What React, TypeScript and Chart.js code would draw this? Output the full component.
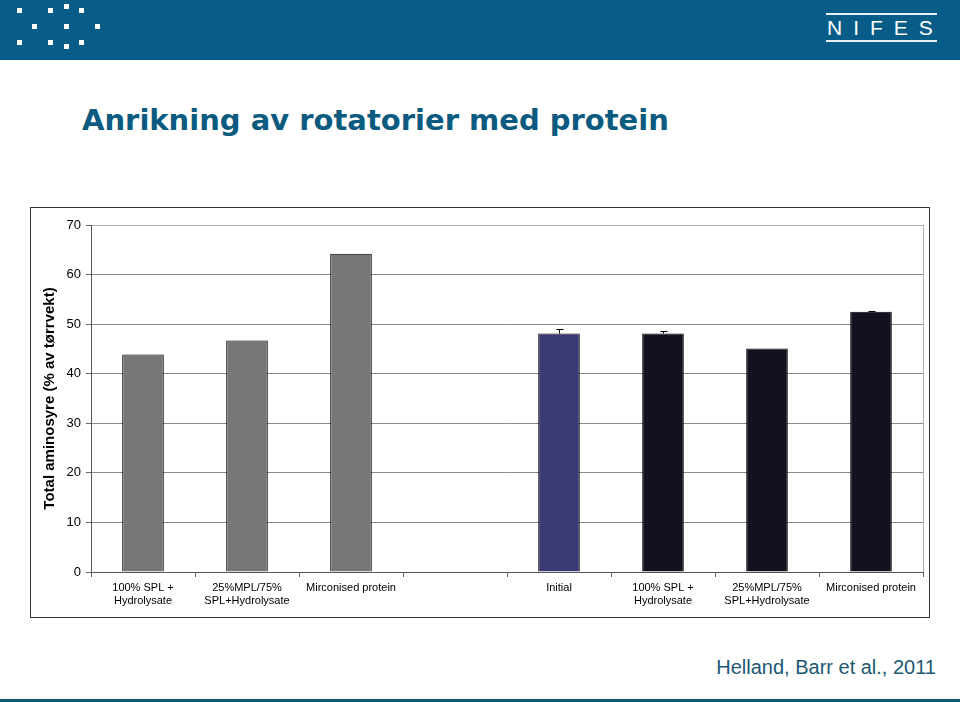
import React, { useEffect, useRef } from "react";
import { Chart, registerables } from "chart.js";

Chart.register(...registerables);

const categories: (string | string[])[] = [
  ["100% SPL +", "Hydrolysate"],
  ["25%MPL/75%", "SPL+Hydrolysate"],
  "Mirconised protein",
  "",
  "Initial",
  ["100% SPL +", "Hydrolysate"],
  ["25%MPL/75%", "SPL+Hydrolysate"],
  "Mirconised protein",
];
const values: (number | null)[] = [43.9, 46.7, 64.2, null, 48.1, 48.1, 45.1, 52.5];
const errors: (number | null)[] = [null, null, null, null, 0.9, 0.6, null, 0.1];
const barColors = ["#777777", "#777777", "#777777", "#777777", "#3c3a74", "#12111f", "#12111f", "#12111f"];
const yTicks = [0, 10, 20, 30, 40, 50, 60, 70];

const title = "Anrikning av rotatorier med protein";
const yTitle = "Total aminosyre (% av tørrvekt)";
const footer = "Helland, Barr et al., 2011";

const dots: [number, number][] = [
  [19, 10], [50, 10], [66, 6], [81, 10],
  [34, 26], [66, 26], [97, 26],
  [19, 42], [50, 42], [66, 46], [81, 42],
];

const errorBarPlugin = {
  id: "errorBars",
  afterDatasetsDraw(chart: any) {
    const { ctx } = chart;
    const meta = chart.getDatasetMeta(0);
    const y = chart.scales.y;
    ctx.save();
    ctx.strokeStyle = "#000";
    ctx.lineWidth = 1;
    meta.data.forEach((bar: any, i: number) => {
      const e = errors[i];
      const v = values[i];
      if (e == null || v == null) return;
      const x = Math.round(bar.x) + 0.5;
      const yTop = Math.round(y.getPixelForValue(v + e)) + 0.5;
      const yBase = y.getPixelForValue(v);
      ctx.beginPath();
      ctx.moveTo(x, yBase);
      ctx.lineTo(x, yTop);
      ctx.moveTo(x - 3, yTop);
      ctx.lineTo(x + 4, yTop);
      ctx.stroke();
    });
    ctx.restore();
  },
};

const frameBorderPlugin = {
  id: "frameRight",
  beforeDatasetsDraw(chart: any) {
    const { ctx, chartArea } = chart;
    ctx.save();
    ctx.strokeStyle = "#b0b0b0";
    ctx.lineWidth = 1;
    ctx.beginPath();
    const x = Math.round(chartArea.right) + 0.5;
    ctx.moveTo(x, chartArea.top);
    ctx.lineTo(x, chartArea.bottom);
    ctx.stroke();
    ctx.restore();
  },
};

function BarChart() {
  const ref = useRef<HTMLCanvasElement>(null);
  useEffect(() => {
    if (!ref.current) return;
    const chart = new Chart(ref.current, {
      type: "bar",
      data: {
        labels: categories,
        datasets: [
          {
            data: values,
            backgroundColor: barColors,
            borderColor: "#000000",
            borderWidth: 1,
            categoryPercentage: 0.8,
            barPercentage: 0.5,
          },
        ],
      },
      options: {
        animation: false,
        responsive: false,
        maintainAspectRatio: false,
        layout: { padding: { top: 17, right: 6, left: 0, bottom: 0 } },
        plugins: {
          legend: { display: false },
          tooltip: { enabled: false },
        },
        scales: {
          x: {
            grid: {
              offset: true,
              drawOnChartArea: false,
              drawTicks: true,
              tickLength: 5,
              color: "#666666",
            },
            border: { color: "#555555", width: 1 },
            ticks: {
              color: "#000000",
              font: { family: "Liberation Sans, Arial, sans-serif", size: 11 },
              maxRotation: 0,
              autoSkip: false,
              padding: 4,
            },
            afterFit(scale: any) {
              scale.height = 45;
            },
          },
          y: {
            min: 0,
            max: 70,
            afterBuildTicks(scale: any) {
              scale.ticks = yTicks.map((v) => ({ value: v }));
            },
            grid: {
              color: (c: any) => (c.tick && c.tick.value === 70 ? "#b0b0b0" : "#8a8a8a"),
              tickLength: 5,
              tickColor: "#666666",
            },
            border: { color: "#555555", width: 1 },
            ticks: {
              color: "#000000",
              font: { family: "Liberation Sans, Arial, sans-serif", size: 13 },
              padding: 5,
            },
            title: {
              display: true,
              text: yTitle,
              color: "#000000",
              font: { family: "Liberation Sans, Arial, sans-serif", size: 15, weight: "bold" },
              padding: { top: 10, bottom: 0 },
            },
            afterFit(scale: any) {
              scale.width = 60;
            },
          },
        },
      },
      plugins: [frameBorderPlugin, errorBarPlugin],
    } as any);
    return () => chart.destroy();
  }, []);
  return <canvas ref={ref} width={898} height={409} style={{ display: "block", width: 898, height: 409 }} />;
}

export default function App() {
  return (
    <div style={{ position: "absolute", left: 0, top: 0, width: 960, height: 702, background: "#ffffff", overflow: "hidden" }}>
      <div style={{ position: "absolute", left: 0, top: 0, width: 960, height: 60, background: "#075d87" }}>
        {dots.map(([x, y], i) => (
          <div key={i} style={{ position: "absolute", left: x - 2, top: y - 2, width: 5, height: 5, background: "#ffffff" }} />
        ))}
        <div style={{ position: "absolute", left: 826, top: 13, width: 111, height: 2, background: "#e8f0f4" }} />
        <div
          style={{
            position: "absolute",
            left: 827,
            top: 17,
            width: 120,
            height: 22,
            color: "#ffffff",
            fontFamily: "'Liberation Sans', Arial, sans-serif",
            fontSize: 21,
            lineHeight: "22px",
            letterSpacing: 11,
            whiteSpace: "nowrap",
          }}
        >
          NIFES
        </div>
        <div style={{ position: "absolute", left: 826, top: 40, width: 111, height: 2, background: "#e8f0f4" }} />
      </div>
      <div
        style={{
          position: "absolute",
          left: 82,
          top: 100,
          color: "#0b5a80",
          fontFamily: "'DejaVu Sans', Verdana, sans-serif",
          fontWeight: "bold",
          fontSize: 29,
          lineHeight: "40px",
          whiteSpace: "nowrap",
        }}
      >
        {title}
      </div>
      <div style={{ position: "absolute", left: 30, top: 207, width: 898, height: 409, border: "1px solid #333333" }}>
        <BarChart />
      </div>
      <div
        style={{
          position: "absolute",
          right: 24,
          top: 654,
          color: "#1b5872",
          fontFamily: "'Liberation Sans', Arial, sans-serif",
          fontSize: 20,
          lineHeight: "26px",
          whiteSpace: "nowrap",
        }}
      >
        {footer}
      </div>
      <div style={{ position: "absolute", left: 0, top: 699, width: 960, height: 3, background: "#0f5a78" }} />
    </div>
  );
}
